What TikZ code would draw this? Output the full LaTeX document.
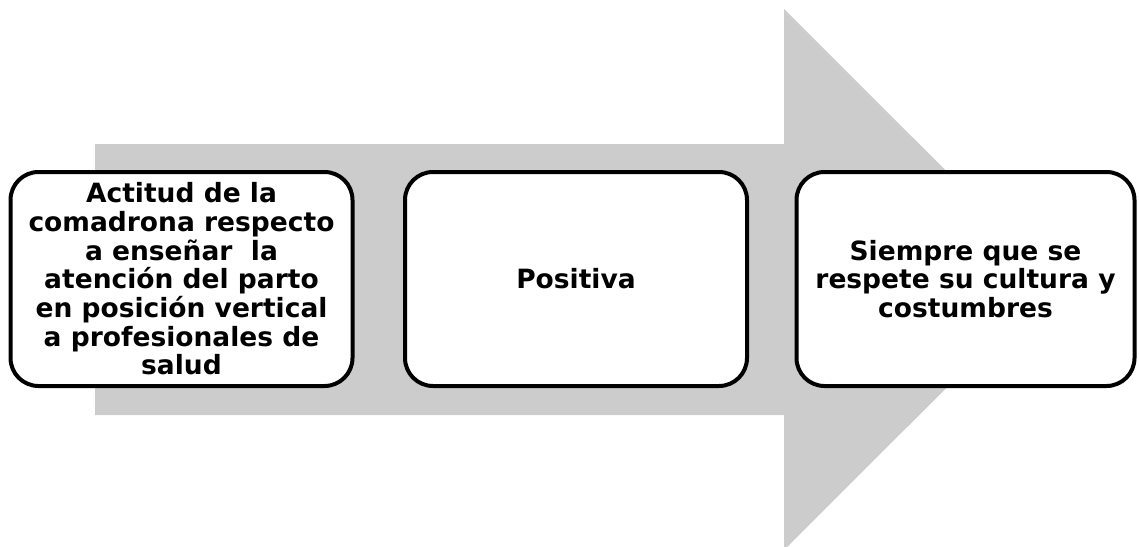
\documentclass[tikz,border=0pt]{standalone}
\usepackage{fontspec}
\setmainfont{DejaVu Sans}
\definecolor{arrowgray}{RGB}{204,204,204}
\begin{document}
\begin{tikzpicture}[x=1pt,y=-1pt,
  stagebox/.style={draw=black, line width=4pt, fill=white, rounded corners=28pt,
    minimum width=342pt, minimum height=214pt, inner sep=0pt,
    align=center, font=\bfseries\fontsize{26.5}{28.7}\selectfont}]
\useasboundingbox (0,0) rectangle (1139,546);
\clip (0,0) rectangle (1139,546);
% wide background arrow
\fill[arrowgray] (95,144) -- (784,144) -- (784,9) -- (1055,279.5)
  -- (784,550) -- (784,415) -- (95,415) -- cycle;
% three stages laid on the arrow
\node[stagebox] (actitud) at (181.5,279)
  {Actitud de la\\comadrona respecto\\a enseñar~ la\\atención del parto\\en posición vertical\\a profesionales de\\salud};
\node[stagebox] (positiva) at (576,279) {Positiva};
\node[stagebox, minimum width=338pt] (condicion) at (965.5,279)
  {Siempre que se\\respete su cultura y\\costumbres};
\end{tikzpicture}
\end{document}
